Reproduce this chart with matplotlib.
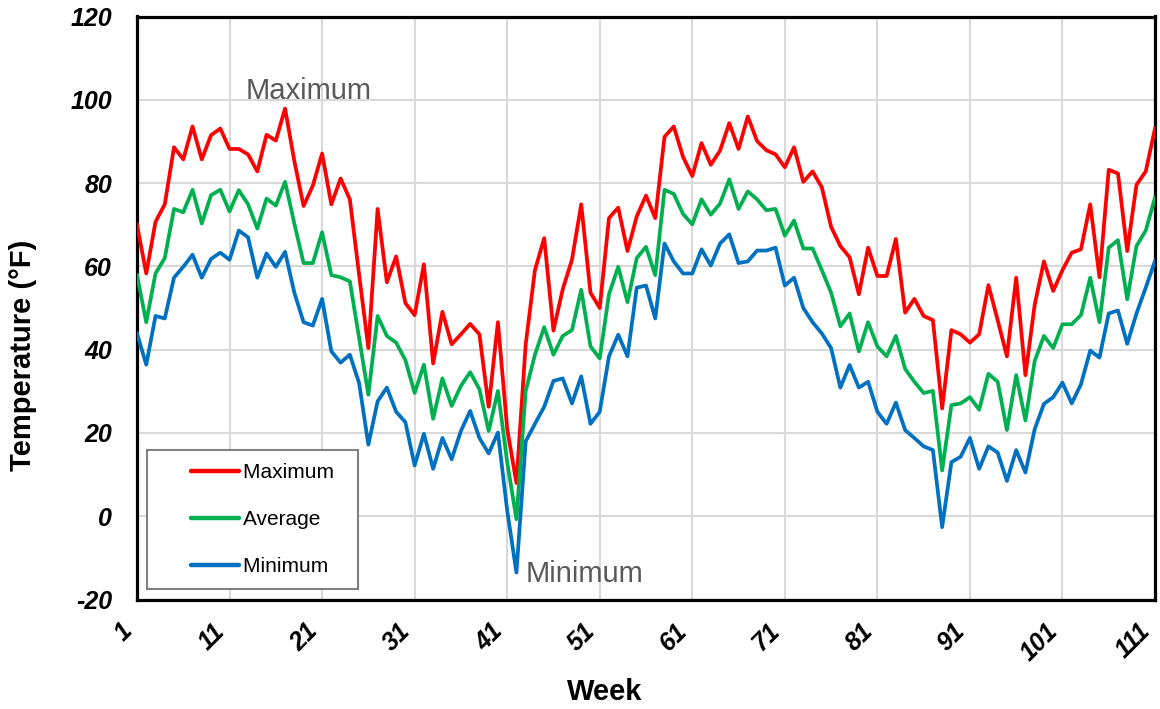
import numpy as np
import matplotlib
matplotlib.use("Agg")
import matplotlib.pyplot as plt
from matplotlib.lines import Line2D
from matplotlib.legend_handler import HandlerLine2D

weeks = list(range(1, 112))

maximum = [70, 58.3, 70.7, 74.9, 88.6, 85.7, 93.6, 85.7, 91.5, 93.1,
           88.2, 88.2, 86.9, 82.8, 91.6, 90.2, 97.9, 85.3, 74.5, 79.4,
           87.1, 74.9, 81.1, 76.1, 58.0, 40.4, 73.8, 56.2, 62.4, 51.2,
           48.3, 60.5, 36.7, 49.1, 41.3, 43.7, 46.2, 43.7, 26.3, 46.6,
           21.0, 8.0, 41.3, 59.1, 66.8, 44.6, 54.5, 61.6, 74.9, 53.7,
           50.0, 71.6, 74.1, 63.7, 72.0, 77.0, 71.6, 91.1, 93.6, 86.3,
           81.7, 89.6, 84.4, 87.8, 94.4, 88.2, 96.0, 90.1, 87.9, 86.9,
           83.8, 88.6, 80.3, 82.8, 79.0, 69.5, 64.9, 62.2, 53.3, 64.5,
           57.7, 57.7, 66.6, 48.9, 52.2, 48.1, 47.1, 25.9, 44.7, 43.7,
           41.7, 43.7, 55.5, 47.1, 38.4, 57.3, 33.9, 50.8, 61.2, 54.1,
           59.1, 63.3, 64.1, 74.9, 57.4, 83.2, 82.3, 63.7, 79.6, 82.8,
           93.1]

average = [57.9, 46.6, 58.3, 62.0, 73.8, 73.0, 78.4, 70.3, 77.1, 78.4,
           73.2, 78.3, 74.9, 69.1, 76.3, 74.6, 80.3, 70.3, 60.8, 60.8,
           68.2, 57.9, 57.4, 56.4, 42.8, 29.2, 48.1, 43.3, 41.7, 37.5,
           29.6, 36.4, 23.4, 33.1, 26.5, 31.3, 34.6, 30.5, 20.5, 30.1,
           13.0, -0.7, 30.1, 38.8, 45.4, 38.8, 43.3, 44.7, 54.4, 40.8,
           37.9, 53.3, 59.9, 51.4, 62.0, 64.7, 57.9, 78.4, 77.4, 72.6,
           70.1, 76.1, 72.4, 75.1, 80.9, 73.8, 78.0, 76.1, 73.5, 73.8,
           67.4, 71.0, 64.3, 64.3, 59.1, 53.7, 45.6, 48.7, 39.6, 46.6,
           40.8, 38.4, 43.3, 35.4, 32.3, 29.6, 30.1, 11.0, 26.7, 27.1,
           28.6, 25.6, 34.2, 32.3, 20.7, 33.9, 23.0, 37.3, 43.3, 40.4,
           46.1, 46.1, 48.3, 57.3, 46.6, 64.5, 66.3, 52.1, 64.9, 68.6,
           76.5]

minimum = [43.9, 36.4, 48.1, 47.5, 57.3, 59.9, 62.8, 57.3, 61.8, 63.3,
           61.6, 68.6, 67.0, 57.3, 63.1, 59.9, 63.5, 53.7, 46.6, 45.8,
           52.2, 39.6, 36.9, 38.8, 32.0, 17.2, 27.6, 30.9, 25.1, 22.6,
           12.2, 19.8, 11.4, 18.8, 13.7, 20.5, 25.3, 18.8, 15.1, 20.1,
           1.4, -13.5, 18.0, 22.2, 26.3, 32.5, 33.1, 27.1, 33.6, 22.2,
           25.1, 38.4, 43.6, 38.4, 54.9, 55.4, 47.5, 65.5, 61.2, 58.3,
           58.3, 64.1, 60.2, 65.5, 67.7, 60.8, 61.2, 63.8, 63.8, 64.5,
           55.4, 57.3, 50.0, 46.6, 43.9, 40.4, 30.9, 36.3, 30.9, 32.3,
           25.1, 22.2, 27.3, 20.7, 18.8, 16.8, 15.9, -2.6, 13.0, 14.3,
           18.8, 11.4, 16.8, 15.3, 8.5, 15.9, 10.5, 20.9, 27.0, 28.6,
           32.1, 27.1, 31.7, 39.8, 38.1, 48.7, 49.4, 41.4, 48.7, 54.9,
           61.3]

x_ticks = list(range(1, 112, 10))
y_ticks = list(range(-20, 121, 20))
series_labels = ["Maximum", "Average", "Minimum"]
colors = ["#ff0000", "#00b050", "#0070c0"]

plt.rcParams['font.family'] = ['Liberation Sans', 'DejaVu Sans']

fig = plt.figure(figsize=(11.6, 7.09), dpi=100)
ax = fig.add_axes([137/1160, 1 - 599.6/709, 1018/1160, 583.1/709])

for data, c, lab in zip([maximum, average, minimum], colors, series_labels):
    ax.plot(weeks, data, color=c, lw=2.7, label=lab, solid_joinstyle='round', zorder=3)

ax.set_xlim(1, 111)
ax.set_ylim(-20, 120)
ax.set_xticks(x_ticks)
ax.set_yticks(y_ticks)
ax.set_xticklabels([str(t) for t in x_ticks], rotation=45, ha='right',
                   fontsize=18, fontweight='bold', fontstyle='italic')
ax.set_yticklabels([str(t) for t in y_ticks],
                   fontsize=18, fontweight='bold', fontstyle='italic')
ax.tick_params(axis='x', length=0, pad=14)
ax.tick_params(axis='y', length=0, pad=18)
ax.grid(True, color='#d9d9d9', lw=1.5, zorder=0)
ax.set_axisbelow(True)
for s in ax.spines.values():
    s.set_linewidth(2.3)
    s.set_color('black')

ax.set_xlabel("Week", fontsize=21, fontweight='bold')
ax.xaxis.set_label_coords((605 - 137) / 1018, (599.6 - 692) / 583.1)
ax.xaxis.label.set_va('center')
ax.set_ylabel("Temperature (°F)", fontsize=21, fontweight='bold')
ax.yaxis.set_label_coords((23 - 137) / 1018, (599.6 - 355) / 583.1)
ax.yaxis.label.set_va('center')

ax.text(12.7, 102.0, "Maximum", color='#595959', fontsize=21, ha='left', va='center')
ax.text(43.0, -13.8, "Minimum", color='#595959', fontsize=21, ha='left', va='center')


class InsetLine(HandlerLine2D):
    def get_xdata(self, legend, xdescent, ydescent, width, height, fontsize):
        x0 = -xdescent + width * 0.40
        x1 = -xdescent + width
        xdata = np.array([x0, x1])
        return xdata, np.array([(x0 + x1) / 2])


handles = [Line2D([0], [0], color=c, lw=3.2, solid_capstyle='round') for c in colors]
leg = ax.legend(handles, [l + "  " for l in series_labels], loc='lower left',
                bbox_to_anchor=(10 / 1018, 11 / 583.1), borderaxespad=0,
                fontsize=15, handlelength=3.8, handletextpad=0.2,
                labelspacing=1.35, borderpad=0.6, fancybox=False,
                edgecolor='#808080', framealpha=1,
                handler_map={Line2D: InsetLine()})
leg.get_frame().set_linewidth(1.5)
leg.set_zorder(5)

fig.savefig("out.png", dpi=100)
